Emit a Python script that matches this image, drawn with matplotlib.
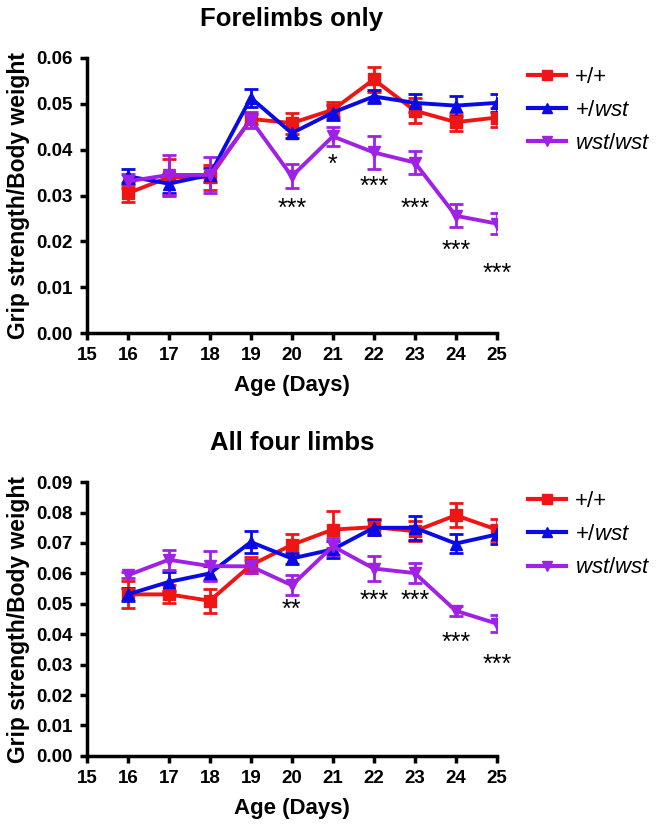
import matplotlib
matplotlib.use("Agg")
import matplotlib.pyplot as plt
from matplotlib.lines import Line2D

plt.rcParams['font.family'] = ['Liberation Sans', 'DejaVu Sans']
plt.rcParams['mathtext.fontset'] = 'custom'
plt.rcParams['mathtext.rm'] = 'Liberation Sans'
plt.rcParams['mathtext.it'] = 'Liberation Sans:italic'

# ===== DATA =====
days = [16, 17, 18, 19, 20, 21, 22, 23, 24, 25]
labels = ["+/+", "+/$\\mathit{wst}$", "$\\mathit{wst/wst}$"]

# Forelimbs only
fore_wt = [0.0305, 0.0340, 0.0340, 0.0467, 0.0458, 0.0487, 0.0553, 0.0485, 0.0460, 0.0470]
fore_wt_err = [0.0018, 0.0040, 0.0027, 0.0010, 0.0023, 0.0016, 0.0027, 0.0027, 0.0020, 0.0020]
fore_het = [0.0342, 0.0326, 0.0345, 0.0513, 0.0436, 0.0481, 0.0516, 0.0502, 0.0496, 0.0502]
fore_het_err = [0.0015, 0.0020, 0.0015, 0.0019, 0.0010, 0.0017, 0.0015, 0.0019, 0.0022, 0.0019]
fore_hom = [0.0331, 0.0345, 0.0345, 0.0465, 0.0342, 0.0429, 0.0394, 0.0372, 0.0256, 0.0239]
fore_hom_err = [0.0015, 0.0044, 0.0040, 0.0017, 0.0026, 0.0020, 0.0035, 0.0026, 0.0025, 0.0023]
fore_stars = ["***", "*", "***", "***", "***", "***"]
fore_star_days = [20, 21, 22, 23, 24, 25]
fore_star_y = [0.0284, 0.0380, 0.0333, 0.0284, 0.0193, 0.0143]

# All four limbs
all_wt = [0.0531, 0.0531, 0.0510, 0.0627, 0.0694, 0.0744, 0.0752, 0.0739, 0.0791, 0.0744]
all_wt_err = [0.0044, 0.0030, 0.0040, 0.0027, 0.0035, 0.0060, 0.0027, 0.0034, 0.0040, 0.0036]
all_het = [0.0531, 0.0572, 0.0600, 0.0703, 0.0649, 0.0679, 0.0750, 0.0750, 0.0698, 0.0728]
all_het_err = [0.0021, 0.0031, 0.0023, 0.0036, 0.0018, 0.0027, 0.0024, 0.0040, 0.0032, 0.0032]
all_hom = [0.0594, 0.0645, 0.0624, 0.0623, 0.0561, 0.0689, 0.0616, 0.0601, 0.0477, 0.0435]
all_hom_err = [0.0010, 0.0033, 0.0050, 0.0022, 0.0033, 0.0027, 0.0042, 0.0034, 0.0016, 0.0028]
all_stars = ["**", "***", "***", "***", "***"]
all_star_days = [20, 22, 23, 24, 25]
all_star_y = [0.0499, 0.0531, 0.0531, 0.0392, 0.0320]

colors = ['#f01515', '#0a0ae6', '#a020e6']
markers = ['s', '^', 'v']


def panel(ax, series, errs, title, ymax, ystep, stars, star_days, star_y):
    for vals, err, c, m in zip(series, errs, colors, markers):
        ax.errorbar(days, vals, yerr=err, color=c, marker=m, markersize=8,
                    linewidth=2.8, elinewidth=2, capsize=5, capthick=2)
    # asterisk glyphs sit high in the font box, nudge them down a bit
    for s, d, y in zip(stars, star_days, star_y):
        ax.annotate(s, (d, y), xytext=(0, -4.5), textcoords='offset points',
                    ha='center', va='center', fontsize=18)
    ax.set_xlim(15, 25)
    ax.set_ylim(0, ymax)
    ax.set_xticks(range(15, 26))
    yt = [i * ystep for i in range(int(round(ymax / ystep)) + 1)]
    ax.set_yticks(yt)
    ax.set_yticklabels([f"{v:.2f}" for v in yt])
    for sp in ['top', 'right']:
        ax.spines[sp].set_visible(False)
    for sp in ['left', 'bottom']:
        ax.spines[sp].set_linewidth(2.5)
    ax.tick_params(width=2.5, length=5, labelsize=13.5, direction='out', pad=5)
    for t in ax.get_xticklabels() + ax.get_yticklabels():
        t.set_fontweight('bold')
    ax.set_xlabel("Age (Days)", fontsize=16, fontweight='bold', labelpad=8)
    ax.set_ylabel("Grip strength/Body weight", fontsize=16.5, fontweight='bold', labelpad=5)
    ax.set_title(title, fontsize=18.5, fontweight='bold', pad=23)
    handles = [Line2D([], [], color=c, marker=m, markersize=7, linewidth=3)
               for c, m in zip(colors, markers)]
    ax.legend(handles, labels, loc='upper left', bbox_to_anchor=(1.055, 1.0),
              frameon=False, fontsize=16, handlelength=1.7, handletextpad=0.4,
              labelspacing=0.55, borderaxespad=0.0)


fig = plt.figure(figsize=(6.58, 8.27), dpi=100)
ax1 = fig.add_axes([0.132, 0.597, 0.623, 0.333])
ax2 = fig.add_axes([0.132, 0.086, 0.623, 0.331])

panel(ax1, [fore_wt, fore_het, fore_hom], [fore_wt_err, fore_het_err, fore_hom_err],
      "Forelimbs only", 0.06, 0.01, fore_stars, fore_star_days, fore_star_y)
panel(ax2, [all_wt, all_het, all_hom], [all_wt_err, all_het_err, all_hom_err],
      "All four limbs", 0.09, 0.01, all_stars, all_star_days, all_star_y)

fig.savefig("out.png", dpi=100)
